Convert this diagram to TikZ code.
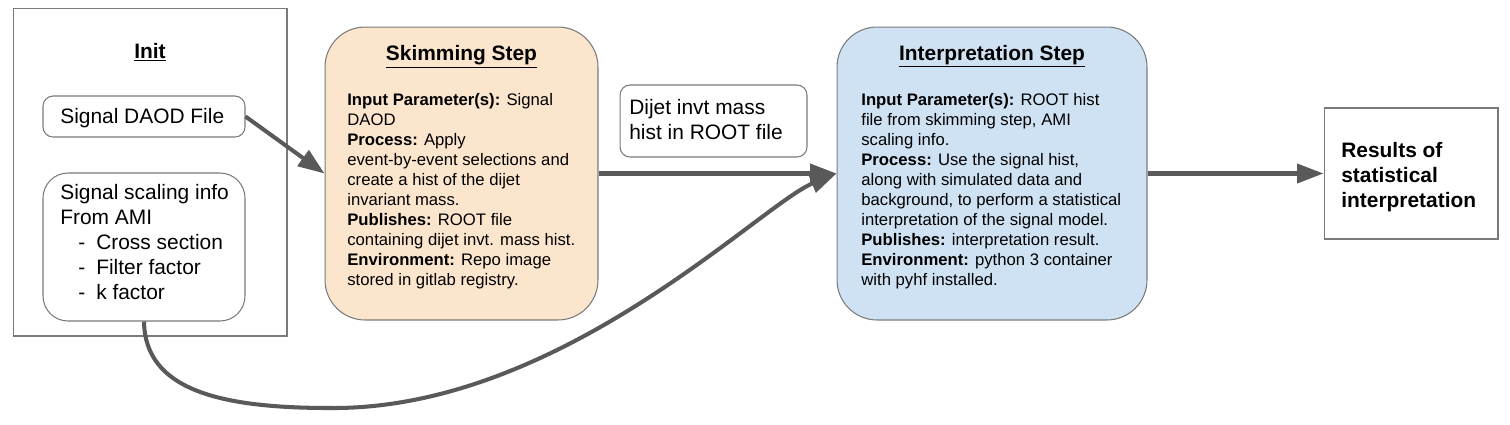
\documentclass[tikz,border=0pt]{standalone}
\usepackage{fontspec}
\setmainfont{Liberation Sans}
\usetikzlibrary{arrows.meta}
\definecolor{peach}{HTML}{FCE5CD}
\definecolor{paleblue}{HTML}{CFE2F3}
\definecolor{edgegray}{HTML}{7A7A7A}
\definecolor{arrowgray}{HTML}{595959}

\begin{document}
\begin{tikzpicture}[x=0.02cm,y=-0.02cm,
    frame/.style={draw=edgegray,line width=0.6pt,inner sep=0pt},
    bigtext/.style={inner sep=0pt,align=left,font=\fontsize{11.9}{14.2}\selectfont},
    smalltext/.style={inner sep=0pt,align=left,font=\fontsize{9.5}{11.4}\selectfont},
    titletext/.style={inner sep=0pt,font=\fontsize{11.9}{14.2}\selectfont\bfseries},
    conn/.style={draw=arrowgray,line width=2.3pt,-{Triangle[length=0.53cm,width=0.38cm]}}]
    \useasboundingbox (0,0) rectangle (1510,424);

    \node[frame,minimum width=5.48cm,minimum height=6.56cm] (init) at (150,172) {};
    \node[titletext,anchor=base] (inittitle) at (150,58) {\underline{Init}};
    \node[frame,rounded corners=0.2cm,minimum width=4.04cm,minimum height=0.82cm] (daod) at (144,116.5) {};
    \node[bigtext,anchor=base west] (daodtext) at (60,123) {Signal DAOD File};
    \node[frame,rounded corners=0.5cm,minimum width=4.04cm,minimum height=2.96cm] (scaling) at (144,247) {};
    \node[bigtext,anchor=north west] (scalingtext) at (60,184) {Signal scaling info\\From AMI\\
        \hspace*{0.36cm}-\hspace{0.22cm}Cross section\\
        \hspace*{0.36cm}-\hspace{0.22cm}Filter factor\\
        \hspace*{0.36cm}-\hspace{0.22cm}k factor};

    \node[frame,fill=peach,rounded corners=0.8cm,minimum width=5.46cm,minimum height=5.86cm] (skim) at (461.5,173.5) {};
    \node[titletext,anchor=base] (skimtitle) at (461.5,60) {\underline{Skimming Step}};
    \node[smalltext,anchor=north west] (skimtext) at (347,93) {\textbf{Input Parameter(s):} Signal\\DAOD\\
        \textbf{Process:} Apply\\event-by-event selections and\\create a hist of the dijet\\invariant mass.\\
        \textbf{Publishes:} ROOT file\\containing dijet invt. mass hist.\\
        \textbf{Environment:} Repo image\\stored in gitlab registry.};

    \node[frame,rounded corners=0.2cm,minimum width=3.74cm,minimum height=1.44cm] (dijet) at (713.5,121) {};
    \node[bigtext,anchor=north west] (dijettext) at (629,99) {Dijet invt mass\\hist in ROOT file};

    \node[frame,fill=paleblue,rounded corners=0.8cm,minimum width=6.2cm,minimum height=5.86cm] (interp) at (992,173.5) {};
    \node[titletext,anchor=base] (interptitle) at (992,60) {\underline{Interpretation Step}};
    \node[smalltext,anchor=north west] (interptext) at (861,93) {\textbf{Input Parameter(s):} ROOT hist\\file from skimming step, AMI\\scaling info.\\
        \textbf{Process:} Use the signal hist,\\along with simulated data and\\background, to perform a statistical\\interpretation of the signal model.\\
        \textbf{Publishes:} interpretation result.\\
        \textbf{Environment:} python 3 container\\with pyhf installed.};

    \node[frame,minimum width=3.48cm,minimum height=2.62cm] (results) at (1411,173.5) {};
    \node[titletext,align=left,anchor=north west] (resultstext) at (1341,142) {Results of\\statistical\\interpretation};

    \draw[conn] (daod.east) -- (skim.west);
    \draw[conn] (skim.east) -- (interp.west);
    \draw[conn] (interp.east) -- (results.west);
    \draw[conn] (scaling.south) .. controls (145,390) and (220,408) .. (330,408)
        .. controls (560,410) and (760,205) .. (interp.west);
\end{tikzpicture}
\end{document}
